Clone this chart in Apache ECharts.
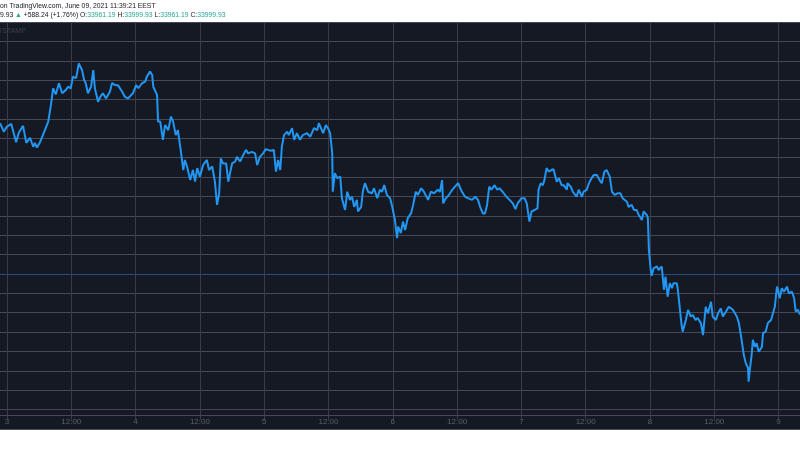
<!DOCTYPE html>
<html>
<head>
<meta charset="utf-8">
<script src="https://cdn.jsdelivr.net/npm/echarts@6/dist/echarts.min.js"></script>
<style>
html,body{margin:0;padding:0;background:#fff;}
#c{width:800px;height:450px;}
</style>
</head>
<body>
<div id="c"></div>
<script>
// hours since June 3 00:00
const hours = [-1.3,-0.6,0.0,0.8,1.1,1.7,2.2,3.0,3.6,4.3,4.9,5.2,5.6,6.2,6.7,7.7,8.2,8.6,9.1,9.7,10.3,11.0,11.4,11.9,12.3,12.9,13.4,14.0,14.4,14.7,15.1,15.7,16.1,16.4,17.0,17.4,17.9,18.5,19.2,19.6,20.2,20.7,21.5,22.0,22.6,23.5,24.1,24.5,25.2,25.8,26.1,26.7,27.1,27.3,28.0,28.2,28.6,
29.1,29.5,30.1,30.6,31.0,31.5,31.9,32.5,32.9,33.2,33.6,34.2,34.7,35.1,35.5,36.0,36.6,37.3,37.7,38.3,38.8,39.2,39.6,39.9,40.3,40.9,41.3,42.0,42.6,42.9,43.5,44.1,44.6,45.0,45.7,46.3,46.7,47.2,47.8,48.3,49.1,49.8,50.2,50.6,51.0,51.3,51.7,52.3,52.6,53.2,53.6,54.1,54.7,55.2,56.0,56.6,57.3,57.9,58.2,59.0,59.5,59.9,60.3,60.7,60.8,61.2,61.6,62.2,62.5,63.1,63.5,64.0,64.4,64.8,65.3,65.5,66.1,66.4,66.8,67.4,68.1,68.5,69.1,69.6,70.0,70.4,70.9,71.5,71.9,72.4,72.8,73.0,73.5,73.9,74.3,74.8,75.4,75.8,76.3,76.7,77.3,77.8,78.6,79.1,79.7,80.4,80.8,81.2,81.4,81.9,82.5,83.1,83.6,84.2,84.6,84.9,85.5,86.1,86.8,87.4,87.9,88.3,88.8,89.2,89.6,90.0,90.4,91.0,91.5,91.9,92.5,93.2,93.8,94.4,94.9,95.3,96.0,96.6,97.0,97.5,97.9,98.5,99.0,99.2,99.6,100.0,100.3,100.7,101.1,101.6,102.0,102.6,103.0,103.5,103.9,104.5,104.6,105.2,105.6,106.3,106.7,107.3,107.6,108.2,108.6,109.1,109.5,110.1,110.6,111.0,111.5,111.9,112.5,112.9,113.4,114.0,114.5,114.9,115.7,116.0,116.6,117.0,117.5,117.9,118.5,118.8,119.4,119.6,119.8,120.1,120.3,120.7,121.3,121.6,122.2,122.6,122.9,123.3,123.7,124.1,124.4,125.0,125.2,125.6,125.9,126.1,126.7,127.1,127.6,128.0,128.5,128.9,129.5,129.9,130.4,130.8,131.4,131.7,132.3,132.7,133.2,133.6,134.2,134.7,135.5,136.2,136.6,137.1,137.5,137.9,138.3,138.4,138.6,139.0,139.2,139.6,139.9,140.3,140.9,141.1,141.6,142.0,142.6,142.9,143.3,143.7,143.9,144.2,144.6,145.0,145.6,145.9,146.5,146.9,147.2,147.6,148.0];

const prices = [38890,38670,38800,38870,38860,38400,38640,38820,38380,38510,38280,38380,38260,38410,38580,38930,39360,39790,39630,39920,39660,39750,39830,39790,40090,40050,40430,40260,40000,39920,39660,39830,40260,39790,39440,39570,39660,39530,39700,39920,39870,39870,39700,39570,39530,39660,39870,39790,39920,39960,40090,40220,40130,39830,39620,38930,38930,
38460,38840,38710,39060,38930,38580,38710,38110,37680,37940,37770,37420,37680,37380,37730,37510,37810,37940,37680,37770,37380,36780,37080,37980,37850,37850,37380,37850,37900,38020,37900,38070,38200,38110,38150,38110,37810,38020,38110,38220,38180,38200,37640,37940,37680,38280,38580,38670,38580,38760,38460,38630,38460,38580,38630,38540,38760,38710,38890,38630,38840,38760,38630,38110,37120,37600,37470,37510,36950,36650,37120,36910,36990,36730,36910,36610,36730,37120,37340,37120,37080,37210,36950,37170,37120,37290,37040,36950,36730,36390,35920,36220,36050,36350,36130,36440,36560,36780,37120,37040,37210,37120,36910,37120,37080,37170,37120,37420,36820,36950,37040,37170,37250,37340,37210,37120,36990,36950,36910,36990,36910,36730,36560,36560,36780,37250,37170,37290,37170,37210,37120,36990,36910,36820,36670,36820,36950,36950,36820,36350,36610,36650,36690,37170,37340,37290,37420,37730,37640,37680,37700,37380,37470,37290,37290,37170,37340,37250,37120,36990,37170,36990,37120,37170,37340,37470,37550,37550,37420,37340,37640,37680,37510,37120,37040,37080,37080,36950,36860,36730,36780,36650,36650,36520,36390,36610,36520,36440,35620,35150,34950,35150,35190,35100,35190,34590,34930,34410,34760,34630,34760,34760,34590,34070,33680,33510,33810,34070,33900,33940,33810,33860,33730,33420,34150,33980,34280,33900,33810,33980,34110,33900,34030,34150,34070,33900,33730,33300,32910,32690,32570,32220,32480,32950,33300,33120,33210,32990,33120,33470,33510,33730,33810,33770,34150,34670,34590,34370,34630,34540,34670,34500,34540,34370,34030,34070,33950];

const dayLabels = {0:'3',24:'4',48:'5',72:'6',96:'7',120:'8',144:'9'};
const priceLine = 35000;
const headerLine1 = 'on TradingView.com, June 09, 2021 11:39:21 EEST';
const ohlc = {chg:'+588.24 (+1.76%)', o:'33961.19', h:'33999.93', l:'33961.19', c:'33999.93', last:'9.93'};

const chart = echarts.init(document.getElementById('c'), null, {renderer:'canvas'});
const FONT = 'Liberation Sans, Arial, sans-serif';
chart.setOption({
  backgroundColor: '#151924',
  animation: false,
  grid: {left: -57.3, right: -42.87, top: 22, bottom: 40.5, containLabel: false, outerBoundsMode: 'none'},
  xAxis: {
    type: 'value', min: -12, max: 156, interval: 12,
    axisLine: {show: false},
    axisTick: {show: true, length: 10, lineStyle: {color: '#3a3d49'}},
    splitLine: {show: true, lineStyle: {color: '#3a3d49', width: 1}},
    axisLabel: {
      show: true, margin: 8, color: '#5d606b', fontSize: 8, fontFamily: FONT,
      formatter: v => (v % 24 === 0 ? (dayLabels[v] || '') : '12:00')
    }
  },
  yAxis: {
    type: 'value', min: 31500, max: 41500, interval: 500,
    axisLine: {show: false}, axisTick: {show: false}, axisLabel: {show: false},
    splitLine: {show: true, lineStyle: {color: '#464955', width: 1}}
  },
  series: [{
    type: 'line',
    data: hours.map((h, i) => [h, prices[i]]),
    showSymbol: false,
    symbol: 'none',
    lineStyle: {color: '#2196f3', width: 2},
    markLine: {
      silent: true, symbol: 'none', label: {show: false},
      lineStyle: {color: '#2b4c74', width: 1, type: 'solid'},
      data: [{yAxis: priceLine}]
    },
    z: 5
  }],
  graphic: [
    {type: 'line', shape: {x1: 0, y1: 415.5, x2: 800, y2: 415.5}, style: {stroke: '#464955', lineWidth: 1}, z: 1},
    {type: 'text', left: -2, top: 28, style: {text: 'TSTAMP', fill: '#3c404c', font: '7px ' + FONT}, z: 1},
    {type: 'rect', shape: {x: 0, y: 0, width: 800, height: 22}, style: {fill: '#ffffff'}, z: 50},
    {type: 'rect', shape: {x: 0, y: 430, width: 800, height: 20}, style: {fill: '#ffffff'}, z: 50},
    {type: 'line', shape: {x1: 0, y1: 429.5, x2: 800, y2: 429.5}, style: {stroke: '#4a4d57', lineWidth: 1}, z: 51},
    {type: 'text', x: 0, y: 3, z: 60,
      style: {text: headerLine1, fill: '#131722', font: '6.8px ' + FONT}},
    {type: 'text', x: 0, y: 12, z: 60,
      style: {
        text: '{d|' + ohlc.last + ' }{g|▲}{d| ' + ohlc.chg + ' O:}{g|' + ohlc.o + '}{d| H:}{g|' + ohlc.h + '}{d| L:}{g|' + ohlc.l + '}{d| C:}{g|' + ohlc.c + '}',
        font: '6.8px ' + FONT,
        rich: {
          d: {fill: '#131722', font: '6.8px ' + FONT},
          g: {fill: '#26a69a', font: '6.8px ' + FONT}
        }
      }}
  ]
});
</script>
</body>
</html>
